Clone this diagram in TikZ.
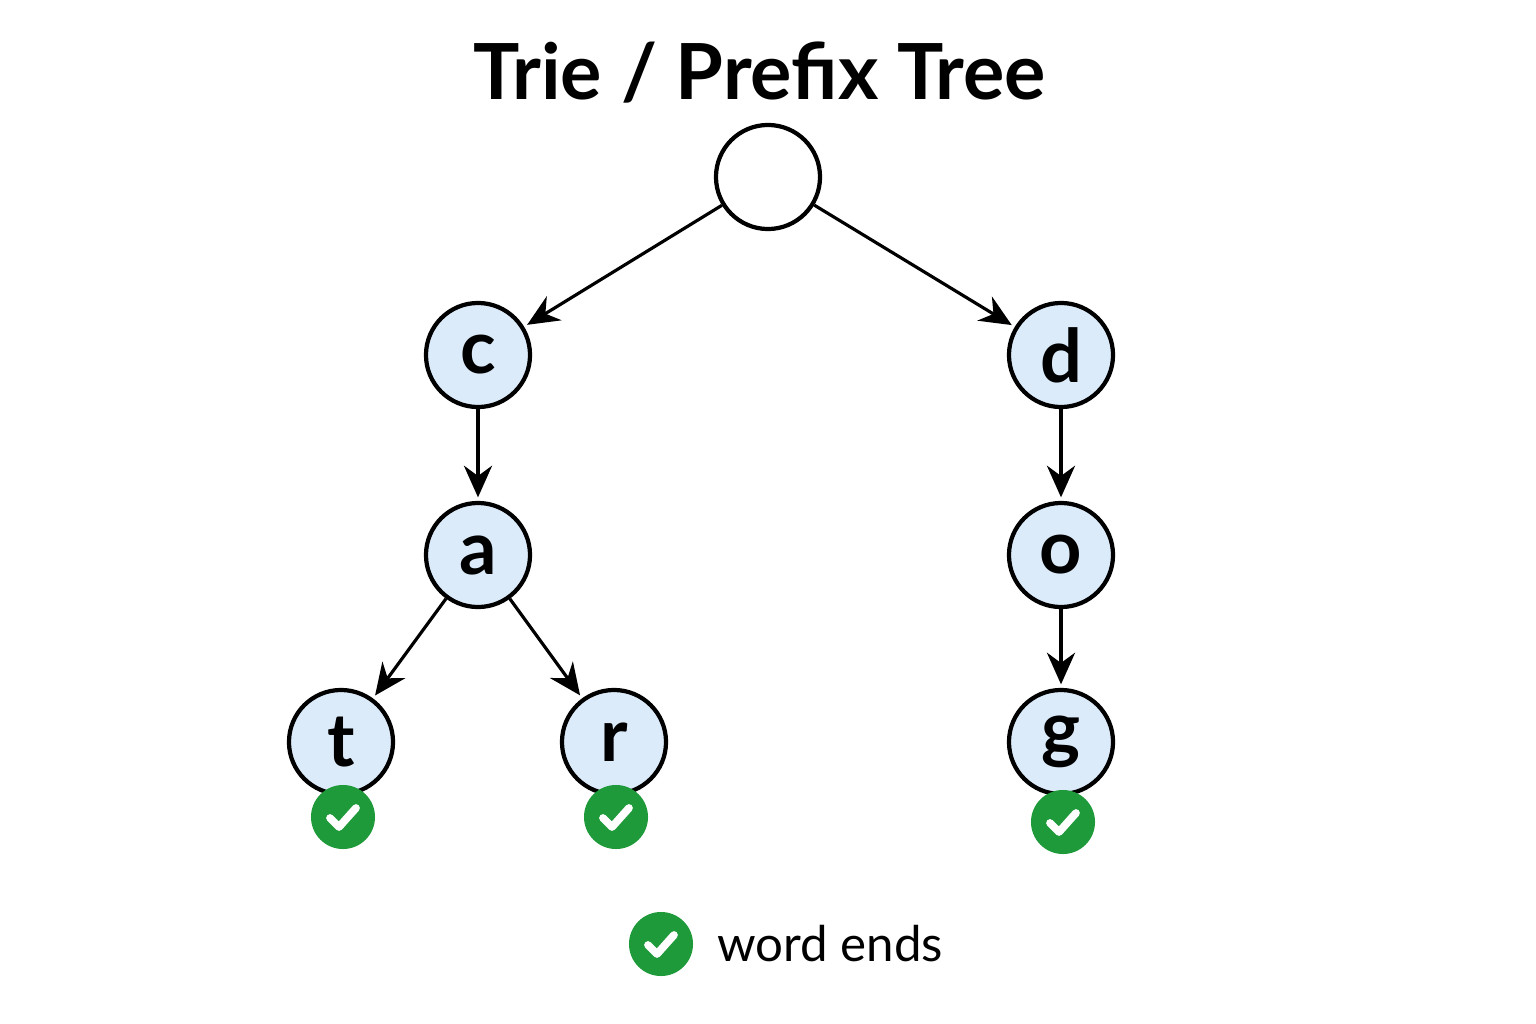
\documentclass[tikz,border=0pt]{standalone}
\usepackage{fontspec}
\setmainfont{Lato}
\usetikzlibrary{arrows.meta}
\definecolor{nodefill}{HTML}{DCEBFA}
\definecolor{okgreen}{HTML}{1E9A3A}
\begin{document}
\begin{tikzpicture}[x=0.01cm,y=-0.01cm,
  tnode/.style={circle,draw=black,line width=1.2pt,fill=nodefill,minimum size=1.04cm,inner sep=0pt,font=\fontsize{21}{21}\selectfont\bfseries},
  edge/.style={-{Stealth[length=9pt,width=8pt]},line width=0.9pt,shorten >=1pt},
  chk/.style={circle,fill=okgreen,minimum size=0.64cm,inner sep=0pt}]
\useasboundingbox (0,0) rectangle (1536,1024);
\node[font=\fontsize{22}{22}\selectfont\bfseries] (title) at (760,73) {Trie / Prefix Tree};
\node[tnode,fill=white] (root) at (768,177) {};
\node[tnode] (c) at (478,355) {c};
\node[tnode] (d) at (1061,355) {d};
\node[tnode] (a) at (478,555) {a};
\node[tnode] (o) at (1061,555) {o};
\node[tnode] (t) at (341,742) {t};
\node[tnode] (r) at (614,742) {r};
\node[tnode] (g) at (1061,742) {g};
\foreach \u/\v in {root/c,root/d,c/a,d/o,a/t,a/r,o/g} \draw[edge] (\u) -- (\v);
\newcommand{\mycheck}[2]{%
  \node[chk] (#1) at (#2) {};
  \draw[white,line width=2.2pt,line cap=round,line join=round] ([shift={(-13,1)}]#1.center) -- ([shift={(-4,10)}]#1.center) -- ([shift={(13,-9)}]#1.center);}
\mycheck{ct}{343,817}
\mycheck{cr}{616,817}
\mycheck{cg}{1063,822}
\mycheck{cl}{661,944}
\node[anchor=west,font=\fontsize{14}{14}\selectfont] (lt) at (705,944) {word ends};
\end{tikzpicture}
\end{document}
